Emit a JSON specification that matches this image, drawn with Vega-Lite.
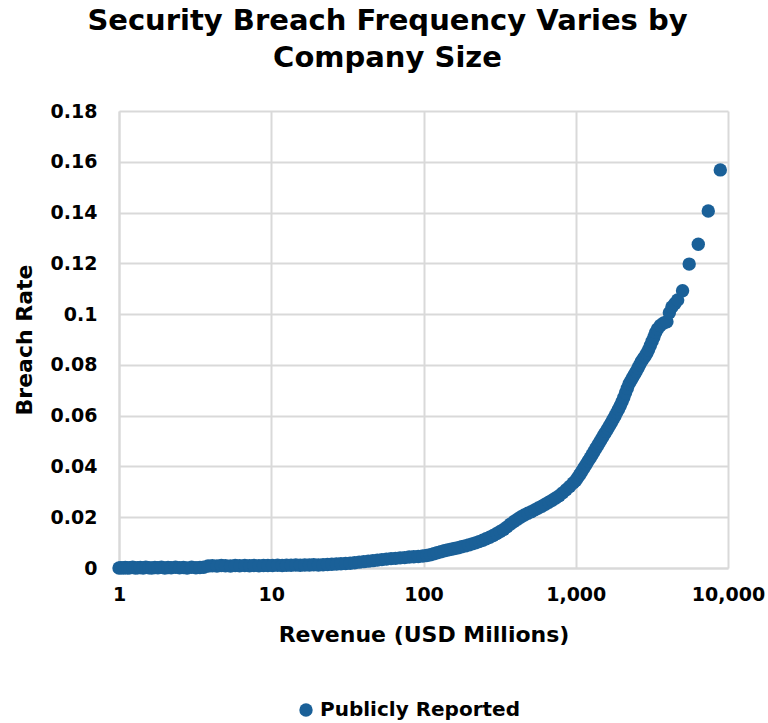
{
  "$schema": "https://vega.github.io/schema/vega-lite/v6.json",
  "width": 609,
  "height": 457,
  "autosize": "none",
  "padding": {"left": 119, "top": 111, "right": 40, "bottom": 155},
  "title": {
    "text": ["Security Breach Frequency Varies by", "Company Size"],
    "font": "DejaVu Sans",
    "fontSize": 29,
    "fontWeight": "bold",
    "color": "#000000",
    "anchor": "middle",
    "dx": -36,
    "offset": 29,
    "lineHeight": 37
  },
  "config": {
    "view": {"stroke": null},
    "axis": {
      "labelFont": "DejaVu Sans",
      "titleFont": "DejaVu Sans",
      "labelFontSize": 19,
      "titleFontSize": 22,
      "labelFontWeight": "bold",
      "titleFontWeight": "bold",
      "labelColor": "#000000",
      "titleColor": "#000000",
      "gridColor": "#d9d9d9",
      "gridWidth": 2,
      "domainColor": "#d9d9d9",
      "domainWidth": 2,
      "ticks": false
    },
    "legend": {
      "labelFont": "DejaVu Sans",
      "labelFontSize": 20,
      "labelFontWeight": "bold",
      "labelColor": "#000000",
      "labelLimit": 0
    }
  },
  "data": {
    "values": [
      {"revenue": 1, "rate": 0}, {"revenue": 1.03, "rate": 0.0001}, {"revenue": 1.07, "rate": 0}, {"revenue": 1.1, "rate": 0.0002},
      {"revenue": 1.14, "rate": 0}, {"revenue": 1.18, "rate": 0.0001}, {"revenue": 1.23, "rate": 0.0003}, {"revenue": 1.28, "rate": 0},
      {"revenue": 1.33, "rate": 0.0001}, {"revenue": 1.38, "rate": 0.0002}, {"revenue": 1.44, "rate": 0}, {"revenue": 1.5, "rate": 0.0003},
      {"revenue": 1.57, "rate": 0.0001}, {"revenue": 1.64, "rate": 0}, {"revenue": 1.72, "rate": 0.0002}, {"revenue": 1.8, "rate": 0.0001},
      {"revenue": 1.9, "rate": 0.0003}, {"revenue": 2, "rate": 0}, {"revenue": 2.1, "rate": 0.0002}, {"revenue": 2.2, "rate": 0.0001},
      {"revenue": 2.35, "rate": 0.0003}, {"revenue": 2.5, "rate": 0.0001}, {"revenue": 2.65, "rate": 0.0002}, {"revenue": 2.8, "rate": 0},
      {"revenue": 3, "rate": 0.0003}, {"revenue": 3.2, "rate": 0.0001}, {"revenue": 3.4, "rate": 0.0002}, {"revenue": 3.6, "rate": 0.0003},
      {"revenue": 3.85, "rate": 0.0008}, {"revenue": 4.1, "rate": 0.0009}, {"revenue": 4.4, "rate": 0.0008}, {"revenue": 4.7, "rate": 0.001},
      {"revenue": 5, "rate": 0.0009}, {"revenue": 5.4, "rate": 0.0008}, {"revenue": 5.8, "rate": 0.001}, {"revenue": 6.2, "rate": 0.0009},
      {"revenue": 6.7, "rate": 0.001}, {"revenue": 7.2, "rate": 0.0009}, {"revenue": 7.7, "rate": 0.001}, {"revenue": 8.3, "rate": 0.0009},
      {"revenue": 8.9, "rate": 0.001}, {"revenue": 9.5, "rate": 0.001},
      {"revenue": 10.2, "rate": 0.001}, {"revenue": 11, "rate": 0.0011}, {"revenue": 11.8, "rate": 0.001}, {"revenue": 12.6, "rate": 0.0011},
      {"revenue": 13.5, "rate": 0.0011}, {"revenue": 14.5, "rate": 0.0012}, {"revenue": 15.5, "rate": 0.0011}, {"revenue": 16.6, "rate": 0.0012},
      {"revenue": 17.8, "rate": 0.0012}, {"revenue": 19, "rate": 0.0013}, {"revenue": 20.4, "rate": 0.0012}, {"revenue": 21.9, "rate": 0.0013},
      {"revenue": 23.4, "rate": 0.0014}, {"revenue": 25, "rate": 0.0015}, {"revenue": 26.8, "rate": 0.0016}, {"revenue": 28.7, "rate": 0.0017},
      {"revenue": 30.8, "rate": 0.0018}, {"revenue": 33, "rate": 0.0019}, {"revenue": 35.3, "rate": 0.0021}, {"revenue": 37.8, "rate": 0.0023},
      {"revenue": 40.5, "rate": 0.0025}, {"revenue": 43.4, "rate": 0.0027}, {"revenue": 46.5, "rate": 0.0029}, {"revenue": 49.8, "rate": 0.0031},
      {"revenue": 53.3, "rate": 0.0033}, {"revenue": 57.1, "rate": 0.0035}, {"revenue": 61.2, "rate": 0.0037}, {"revenue": 65.5, "rate": 0.0038},
      {"revenue": 70.2, "rate": 0.004}, {"revenue": 75.2, "rate": 0.0041}, {"revenue": 80.5, "rate": 0.0043}, {"revenue": 86.3, "rate": 0.0044},
      {"revenue": 92.4, "rate": 0.0045}, {"revenue": 99, "rate": 0.0047},
      {"revenue": 105, "rate": 0.0049}, {"revenue": 111, "rate": 0.0052}, {"revenue": 117, "rate": 0.0056}, {"revenue": 123, "rate": 0.006},
      {"revenue": 130, "rate": 0.0064}, {"revenue": 137, "rate": 0.0068}, {"revenue": 144, "rate": 0.0071}, {"revenue": 152, "rate": 0.0074},
      {"revenue": 160, "rate": 0.0077}, {"revenue": 169, "rate": 0.008}, {"revenue": 178, "rate": 0.0084}, {"revenue": 188, "rate": 0.0087},
      {"revenue": 198, "rate": 0.0091}, {"revenue": 209, "rate": 0.0095}, {"revenue": 220, "rate": 0.0099}, {"revenue": 232, "rate": 0.0104},
      {"revenue": 245, "rate": 0.0109}, {"revenue": 258, "rate": 0.0115}, {"revenue": 272, "rate": 0.0121}, {"revenue": 287, "rate": 0.0128},
      {"revenue": 303, "rate": 0.0136}, {"revenue": 319, "rate": 0.0144}, {"revenue": 336, "rate": 0.0152}, {"revenue": 354, "rate": 0.0162},
      {"revenue": 373, "rate": 0.0173}, {"revenue": 393, "rate": 0.0183}, {"revenue": 414, "rate": 0.0192}, {"revenue": 436, "rate": 0.0201},
      {"revenue": 460, "rate": 0.0209}, {"revenue": 485, "rate": 0.0216}, {"revenue": 511, "rate": 0.0222}, {"revenue": 539, "rate": 0.0229},
      {"revenue": 568, "rate": 0.0236}, {"revenue": 599, "rate": 0.0243}, {"revenue": 631, "rate": 0.0251}, {"revenue": 665, "rate": 0.0259},
      {"revenue": 701, "rate": 0.0267}, {"revenue": 739, "rate": 0.0276}, {"revenue": 779, "rate": 0.0285}, {"revenue": 821, "rate": 0.0296},
      {"revenue": 865, "rate": 0.0308}, {"revenue": 912, "rate": 0.0321}, {"revenue": 961, "rate": 0.0335}, {"revenue": 1000, "rate": 0.0345},
      {"revenue": 1030, "rate": 0.0356}, {"revenue": 1058, "rate": 0.0366}, {"revenue": 1087, "rate": 0.0377}, {"revenue": 1117, "rate": 0.0389},
      {"revenue": 1147, "rate": 0.04}, {"revenue": 1178, "rate": 0.0411}, {"revenue": 1210, "rate": 0.0422}, {"revenue": 1243, "rate": 0.0433},
      {"revenue": 1277, "rate": 0.0445}, {"revenue": 1312, "rate": 0.0457}, {"revenue": 1347, "rate": 0.0469}, {"revenue": 1384, "rate": 0.048},
      {"revenue": 1421, "rate": 0.0491}, {"revenue": 1460, "rate": 0.0503}, {"revenue": 1500, "rate": 0.0515}, {"revenue": 1540, "rate": 0.0527},
      {"revenue": 1582, "rate": 0.0538}, {"revenue": 1625, "rate": 0.0549}, {"revenue": 1669, "rate": 0.0561}, {"revenue": 1715, "rate": 0.0573},
      {"revenue": 1761, "rate": 0.0586}, {"revenue": 1809, "rate": 0.0599}, {"revenue": 1858, "rate": 0.0612}, {"revenue": 1909, "rate": 0.0625},
      {"revenue": 1960, "rate": 0.0639}, {"revenue": 2013, "rate": 0.0655}, {"revenue": 2068, "rate": 0.0672}, {"revenue": 2124, "rate": 0.069},
      {"revenue": 2182, "rate": 0.0708}, {"revenue": 2241, "rate": 0.0726}, {"revenue": 2302, "rate": 0.0738}, {"revenue": 2364, "rate": 0.075},
      {"revenue": 2428, "rate": 0.0762}, {"revenue": 2494, "rate": 0.0774}, {"revenue": 2562, "rate": 0.0788}, {"revenue": 2631, "rate": 0.0801},
      {"revenue": 2703, "rate": 0.0814}, {"revenue": 2776, "rate": 0.0824}, {"revenue": 2851, "rate": 0.0834}, {"revenue": 2929, "rate": 0.0846},
      {"revenue": 3008, "rate": 0.086}, {"revenue": 3090, "rate": 0.0876}, {"revenue": 3174, "rate": 0.0893}, {"revenue": 3260, "rate": 0.091},
      {"revenue": 3348, "rate": 0.0928}, {"revenue": 3439, "rate": 0.0941}, {"revenue": 3590, "rate": 0.0955}, {"revenue": 3780, "rate": 0.0965},
      {"revenue": 3970, "rate": 0.097}, {"revenue": 4120, "rate": 0.1005}, {"revenue": 4280, "rate": 0.1028}, {"revenue": 4480, "rate": 0.1042},
      {"revenue": 4670, "rate": 0.1056}, {"revenue": 5030, "rate": 0.1092}, {"revenue": 5560, "rate": 0.1197}, {"revenue": 6380, "rate": 0.1275},
      {"revenue": 7420, "rate": 0.1406}, {"revenue": 8900, "rate": 0.1568}
    ]
  },
  "mark": {"type": "circle", "size": 180, "opacity": 1},
  "encoding": {
    "x": {
      "field": "revenue",
      "type": "quantitative",
      "scale": {"type": "log", "domain": [1, 10000]},
      "axis": {
        "title": "Revenue (USD Millions)",
        "values": [1, 10, 100, 1000, 10000],
        "format": ",",
        "labelPadding": 17,
        "titlePadding": 20,
        "labelFlush": false
      }
    },
    "y": {
      "field": "rate",
      "type": "quantitative",
      "scale": {"domain": [0, 0.18], "nice": false},
      "axis": {
        "title": "Breach Rate",
        "values": [0, 0.02, 0.04, 0.06, 0.08, 0.1, 0.12, 0.14, 0.16, 0.18],
        "format": "~g",
        "labelPadding": 22,
        "titlePadding": 14
      }
    },
    "color": {
      "datum": "Publicly Reported",
      "type": "nominal",
      "scale": {"range": ["#1a6098"]},
      "legend": {
        "title": null,
        "orient": "none",
        "legendX": 177,
        "legendY": 589,
        "symbolType": "circle",
        "symbolSize": 180,
        "symbolOpacity": 1,
        "labelOffset": 4
      }
    }
  }
}
